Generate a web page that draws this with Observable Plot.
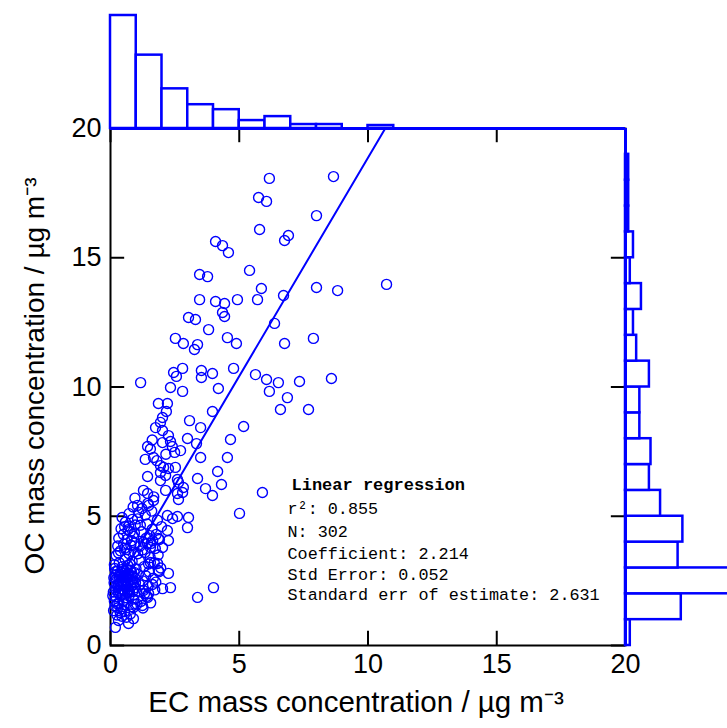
<!DOCTYPE html>
<html><head><meta charset="utf-8">
<script src="https://cdn.jsdelivr.net/npm/d3@7"></script>
<script src="https://cdn.jsdelivr.net/npm/@observablehq/plot@0.6"></script>
<style>
html,body{margin:0;padding:0;background:#fff;overflow:hidden;}
#chart{position:relative;width:727px;height:728px;overflow:hidden;}
#chart svg{position:absolute;left:0;top:0;}
</style></head><body><div id="chart"></div>
<script>
const xTicks = [0, 5, 10, 15, 20];
const yTicks = [0, 5, 10, 15, 20];
// EC histogram (top), bins of 1 µg m-3 starting at 0
const ecCounts = [114, 74, 40, 24, 19, 8, 12, 4, 4, 0, 3];
// OC histogram (right), bins of 1 µg m-3 starting at 0
const ocCounts = [3, 35, 73, 33, 36, 22, 15, 16, 9, 9, 15, 7, 5, 10, 3, 5, 2, 2, 2, 0];
const regression = {slope: 1.69, intercept: 1.97, xStart: 0.1, xEnd: 10.68};
const statsTitle = "Linear regression";
const statsLines = ["r²: 0.855", "N: 302", "Coefficient: 2.214", "Std Error: 0.052", "Standard err of estimate: 2.631"];
const xLabel = "EC mass concentration / µg m⁻³";
const yLabel = "OC mass concentration / µg m⁻³";
// [EC, OC] pairs
const points = [
[6.17,18.07],[8.66,18.14],[5.75,17.33],[6.06,17.18],[8.00,16.63],[5.79,16.09],[6.91,15.86],[6.76,15.67],[4.08,15.63],[4.35,15.47],[4.58,15.20],[5.40,14.51],[3.46,14.35],[3.77,14.27],[5.86,13.81],[8.00,13.85],[8.82,13.73],[10.72,13.97],
[3.46,13.38],[4.08,13.31],[4.43,13.23],[4.93,13.38],[5.71,13.38],[6.72,13.54],[4.35,12.88],[4.43,12.73],[3.03,12.69],[3.30,12.61],[3.81,12.22],[6.37,12.46],[2.52,11.88],[2.83,11.68],[3.38,11.64],[3.26,11.45],[4.54,11.91],[4.89,11.68],[6.76,11.68],[7.88,11.88],[2.80,10.72],[2.45,10.56],[2.56,10.41],[3.53,10.64],[3.53,10.37],[3.96,10.52],[4.78,10.72],[2.33,9.98],[2.80,9.83],[4.19,9.94],[5.63,10.48],[6.06,10.29],[6.52,10.17],[6.17,9.83],[7.34,10.21],[8.58,10.33],[6.87,9.59],[6.60,9.13],[7.69,9.13],[3.07,8.70],[3.96,9.05],[3.50,8.43],[5.17,8.47],
[1.17,10.17],[1.86,9.36],[2.21,9.36],[2.17,9.05],[2.02,8.82],[1.94,8.63],[1.75,8.43],[2.02,8.32],[2.25,8.12],[2.02,7.85],[2.33,7.89],[1.44,7.70],[2.99,8.01],[4.66,7.97],[3.34,7.81],[2.72,7.54],[2.49,7.47],[1.67,7.27],[3.50,7.27],[4.54,7.27],[2.06,6.89],[2.25,6.85],[2.52,6.89],[1.94,6.96],[1.44,6.54],[1.94,6.38],[2.60,6.42],[3.38,6.46],[4.16,6.73],[4.31,6.23],[3.69,6.07],[3.96,5.80],[2.83,6.11],[2.60,5.88],[2.64,5.65],[2.14,6.00],[5.90,5.92],[5.01,5.11],[1.44,5.88],[1.28,6.00],[1.05,5.42],[1.48,5.42],[1.67,5.61],[2.21,5.03],[2.60,4.99],[2.41,4.91],[3.03,4.95],[2.99,4.56],[2.21,4.45],[2.25,4.06],[4.00,2.24],[3.38,1.86],[2.25,2.79],[1.86,2.90],[1.63,2.36],[2.02,2.20],[2.33,2.24],[2.02,3.79],[1.83,3.17],[1.86,4.14],[1.55,3.79],[1.55,3.21],[1.48,2.01],[1.28,2.13],[1.44,1.86],[1.24,1.55],[0.89,1.47],[0.89,1.04],[0.70,0.85],[0.31,0.97],[0.19,0.70],
[1.94,6.69],[2.14,6.58],[2.64,6.31],[2.80,5.92],[1.55,7.60],[1.80,7.15],[2.15,7.40],[1.62,7.95],[2.40,7.70],[1.35,7.20],
[0.12,1.35],[0.18,1.52],[0.25,1.18],[0.33,1.64],[0.41,1.41],[0.22,1.88],[0.36,1.95],[0.48,1.72],[0.55,1.31],[0.60,1.85],[0.15,1.71],[0.28,1.45],[0.44,1.13],[0.52,1.58],[0.66,1.66],[0.73,1.94],[0.81,1.50],[0.90,1.80],[0.38,1.27],[0.09,1.92],[0.62,1.09],[0.47,1.98],[0.26,1.62],[0.77,1.22],[0.95,1.60],
[0.11,2.07],[0.14,2.43],[0.19,2.71],[0.21,2.16],[0.23,2.57],[0.27,2.88],[0.29,2.31],[0.34,2.64],[0.35,2.11],[0.39,2.46],[0.40,2.83],[0.43,2.19],[0.45,2.61],[0.46,2.94],[0.51,2.37],[0.53,2.72],[0.54,2.13],[0.58,2.49],[0.59,2.85],[0.61,2.27],[0.64,2.63],[0.67,2.05],[0.68,2.41],[0.71,2.77],[0.72,2.18],[0.76,2.53],[0.78,2.91],[0.80,2.29],[0.84,2.69],[0.86,2.09],[0.87,2.46],[0.92,2.83],[0.93,2.23],[0.96,2.59],[0.99,2.97],[0.16,2.98],[0.30,2.03],[0.37,2.75],[0.49,2.17],[0.57,2.65],[0.65,2.92],[0.74,2.06],[0.85,2.55],[0.24,2.33],[0.44,2.51],[0.52,2.89],[0.69,2.14],[0.82,2.81],[0.13,2.62],[0.32,2.38],[0.56,2.01],[0.70,2.67],[0.89,2.35],[0.20,2.86],[0.97,2.44],
[0.15,3.12],[0.22,3.48],[0.28,3.85],[0.34,3.20],[0.39,3.66],[0.46,3.05],[0.51,3.92],[0.57,3.34],[0.62,3.71],[0.67,3.10],[0.72,3.55],[0.79,3.88],[0.84,3.26],[0.92,3.62],[0.31,3.58],[0.55,3.76],[0.76,3.15],[0.94,3.96],
[0.32,4.15],[0.41,4.52],[0.50,4.30],[0.58,4.78],[0.64,4.10],[0.71,4.62],[0.77,4.40],[0.85,4.88],[0.90,4.22],[0.96,4.66],[0.45,4.95],[0.68,4.48],[0.82,4.05],[0.55,4.60],[0.93,4.35],
[0.72,5.10],[0.88,5.36],[0.95,5.70],
[1.02,2.10],[1.08,2.75],[1.12,3.30],[1.15,3.85],[1.20,4.40],[1.05,4.90],[1.25,2.50],[1.30,3.05],[1.34,3.60],[1.38,4.15],[1.42,4.70],[1.10,5.15],[1.18,1.70],[1.46,2.30],[1.50,2.85],[1.54,3.40],[1.58,3.95],[1.62,4.50],[1.22,5.30],[1.35,5.05],[1.66,2.60],[1.70,3.20],[1.74,3.75],[1.78,4.30],[1.82,4.85],[1.40,1.90],[1.06,3.55],[1.14,2.35],[1.28,4.00],[1.32,2.00],[1.45,5.50],[1.52,4.25],[1.60,5.20],[1.68,5.75],[1.76,2.45],[1.85,3.50],[1.90,4.10],[1.95,3.00],[1.03,1.60],[1.24,3.70],[1.37,2.70],[1.48,3.15],[1.56,1.65],[1.64,4.05],[1.72,2.15],[1.88,2.85],[1.98,4.60],[1.16,4.65],[1.26,1.45],[1.44,3.95]
];

const BLUE = "#0000ff";
const W = 727, H = 728;
const mL = 110, mR = 102, mT = 128, mB = 83;
const tickLen = 0.55;
const MONO = "'Liberation Mono', 'Courier New', monospace";

const ecBins = ecCounts.map((c, i) => ({x1: i, x2: i + 1, count: c}));
const ocBins = ocCounts.map((c, i) => ({y1: i, y2: i + 1, count: c}));

const mainChart = Plot.plot({
  width: W, height: H,
  marginLeft: mL, marginRight: mR, marginTop: mT, marginBottom: mB,
  style: {background: "transparent", fontFamily: "'Liberation Sans', Arial, sans-serif", fontSize: "27px", color: "black"},
  x: {domain: [0, 20], ticks: xTicks, tickSize: 0, tickPadding: 8, label: null},
  y: {domain: [0, 20], ticks: yTicks, tickSize: 0, tickPadding: 9, label: null},
  marks: [
    Plot.frame({stroke: "black", strokeWidth: 2}),
    Plot.ruleX(xTicks, {x: d => d, y1: 0, y2: tickLen, stroke: "black", strokeWidth: 2}),
    Plot.ruleX(xTicks, {x: d => d, y1: 20, y2: 20 - tickLen, stroke: "black", strokeWidth: 2}),
    Plot.ruleY(yTicks, {y: d => d, x1: 0, x2: tickLen, stroke: "black", strokeWidth: 2}),
    Plot.ruleY(yTicks, {y: d => d, x1: 20, x2: 20 - tickLen, stroke: "black", strokeWidth: 2}),
    Plot.dot(points, {x: d => d[0], y: d => d[1], r: 5, stroke: BLUE, strokeWidth: 1.4, fill: "none"}),
    Plot.line([regression.xStart, regression.xEnd], {x: d => d, y: d => regression.intercept + regression.slope * d, stroke: BLUE, strokeWidth: 2}),
    Plot.text([statsTitle], {frameAnchor: "top-left", dx: 181, dy: 356, textAnchor: "start", lineAnchor: "middle", fontFamily: MONO, fontSize: 17, fontWeight: "bold", fill: "black"}),
    ...statsLines.map((t, i) => Plot.text([t], {frameAnchor: "top-left", dx: 177, dy: [380.5, 403.5, 425.5, 446.5, 466][i], textAnchor: "start", lineAnchor: "middle", fontFamily: MONO, fontSize: 16.8, fill: "black"})),
    Plot.text([xLabel], {frameAnchor: "bottom", dx: -12, dy: 57, textAnchor: "middle", lineAnchor: "middle", fontSize: 29.5, fill: "black"}),
    Plot.text([yLabel], {frameAnchor: "left", dx: -75, dy: -11, rotate: -90, textAnchor: "middle", lineAnchor: "middle", fontSize: 28, fill: "black"})
  ]
});

const topHist = Plot.plot({
  width: W, height: 130,
  marginLeft: mL, marginRight: mR, marginTop: 15, marginBottom: 2,
  style: {background: "transparent"},
  x: {domain: [0, 20], axis: null},
  y: {domain: [0, 114], axis: null},
  marks: [
    Plot.rectY(ecBins, {x1: "x1", x2: "x2", y: "count", fill: "white", stroke: BLUE, strokeWidth: 2.5}),
    Plot.ruleY([0], {stroke: BLUE, strokeWidth: 3})
  ]
});

const rightHist = Plot.plot({
  width: W, height: H,
  marginLeft: 625, marginRight: 0, marginTop: mT, marginBottom: mB,
  style: {background: "transparent"},
  x: {domain: [0, 64], axis: null},
  y: {domain: [0, 20], axis: null},
  marks: [
    Plot.rectX(ocBins, {y1: "y1", y2: "y2", x: "count", fill: "white", stroke: BLUE, strokeWidth: 2.5}),
    Plot.ruleX([0], {stroke: BLUE, strokeWidth: 3})
  ]
});

document.getElementById("chart").append(mainChart, topHist, rightHist);
</script></body></html>
